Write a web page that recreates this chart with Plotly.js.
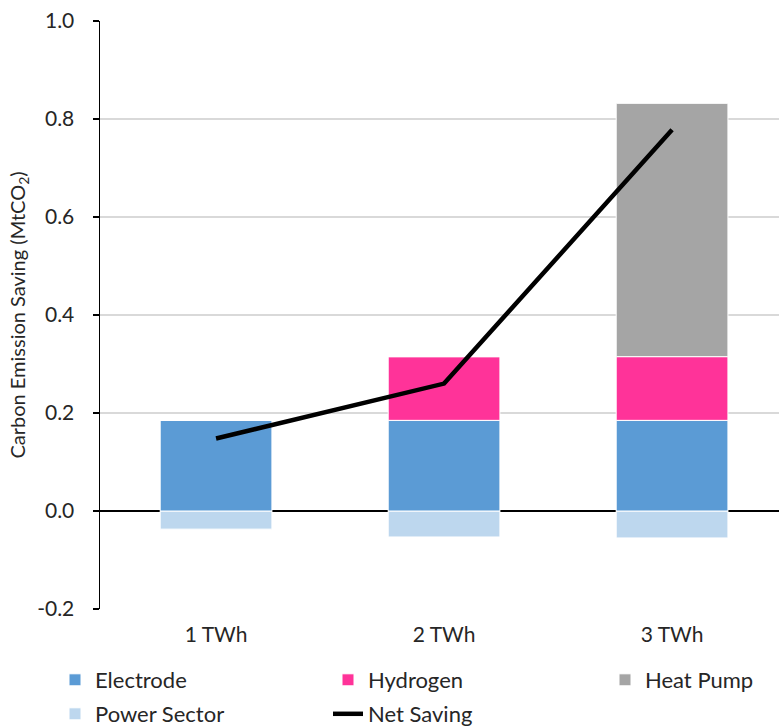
<!DOCTYPE html>
<html>
<head>
<meta charset="utf-8">
<script src="https://cdn.plot.ly/plotly-3.0.1.min.js"></script>
<style>html,body{margin:0;padding:0;background:#fff;}#chart{width:779px;height:726px;}</style>
</head>
<body>
<div id="chart"></div>
<script>
const categories = ["1 TWh", "2 TWh", "3 TWh"];
const electrode = [0.185, 0.185, 0.185];
const hydrogen = [0, 0.13, 0.13];
const heatPump = [0, 0, 0.517];
const powerSector = [-0.037, -0.053, -0.055];
const netSaving = [0.148, 0.260, 0.778];
const yTickVals = [-0.2, 0, 0.2, 0.4, 0.6, 0.8, 1.0];
const yTickText = ["-0.2", "0.0", "0.2", "0.4", "0.6", "0.8", "1.0"];

const font = "Lato, Open Sans, Arial, sans-serif";
const textColor = "#262626";
const barLine = {color: "#ffffff", width: 1};

const traces = [
  {type: "bar", name: "Power Sector", x: categories, y: powerSector, marker: {color: "#BDD7EE", line: barLine}, legend: "legend4"},
  {type: "bar", name: "Electrode", x: categories, y: electrode, marker: {color: "#5B9BD5", line: barLine}, legend: "legend"},
  {type: "bar", name: "Hydrogen", x: categories, y: hydrogen, marker: {color: "#FF3399", line: barLine}, legend: "legend2"},
  {type: "bar", name: "Heat Pump", x: categories, y: heatPump, marker: {color: "#A5A5A5", line: barLine}, legend: "legend3"},
  {type: "scatter", mode: "lines", name: "Net Saving", x: categories, y: netSaving, line: {color: "#000000", width: 4.5}, legend: "legend5"}
];

function legendAt(xPx, yPx) {
  return {
    orientation: "h",
    xref: "container", yref: "container",
    x: xPx / 779, xanchor: "left",
    y: 1 - yPx / 726, yanchor: "middle",
    font: {family: font, size: 22, color: textColor},
    bgcolor: "rgba(0,0,0,0)"
  };
}

const layout = {
  width: 779, height: 726,
  margin: {l: 100, r: 0, t: 21, b: 117, autoexpand: false},
  paper_bgcolor: "#ffffff", plot_bgcolor: "#ffffff",
  barmode: "relative",
  bargap: 0.51,
  showlegend: true,
  font: {family: font, size: 20, color: textColor},
  xaxis: {
    type: "category",
    range: [-0.509, 2.469],
    showgrid: false, zeroline: false, showline: false,
    ticks: "", ticklabelstandoff: 11,
    tickfont: {family: font, size: 21, color: textColor}
  },
  yaxis: {
    range: [-0.2, 1.0],
    tickmode: "array", tickvals: yTickVals, ticktext: yTickText,
    showgrid: true, gridcolor: "#D9D9D9", gridwidth: 1.5,
    zeroline: true, zerolinecolor: "#000000", zerolinewidth: 1.5,
    showline: true, linecolor: "#000000", linewidth: 1.5,
    ticks: "outside", ticklen: 6, tickcolor: "#000000", tickwidth: 1.5,
    ticklabelstandoff: 14,
    tickfont: {family: font, size: 21, color: textColor},
    title: {text: "Carbon Emission Saving (MtCO<sub>2</sub>)", font: {family: font, size: 20, color: textColor}, standoff: 6}
  },
  legend: legendAt(55, 680),
  legend2: legendAt(328, 680),
  legend3: legendAt(605, 680),
  legend4: legendAt(55, 714),
  legend5: legendAt(328, 714)
};

Plotly.newPlot("chart", traces, layout, {displayModeBar: false, staticPlot: true});
</script>
</body>
</html>
